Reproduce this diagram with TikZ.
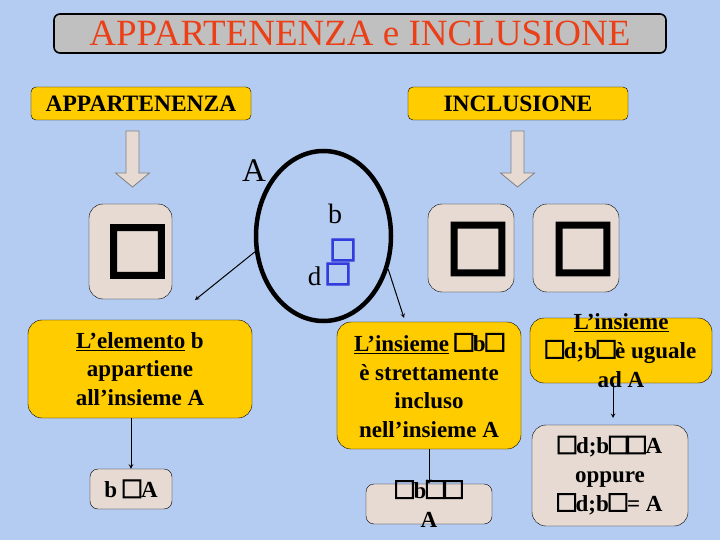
\documentclass[tikz,border=0pt]{standalone}
\usepackage{fontspec}
\setmainfont{Liberation Serif}
\newfontfamily\glyphfont[FakeBold=3]{Liberation Serif}
\newfontfamily\bigglyphfont[FakeBold=4.5]{Liberation Serif}
\usetikzlibrary{shapes.geometric}
\definecolor{bgblue}{RGB}{180,204,242}
\definecolor{hdyellow}{RGB}{255,204,0}
\definecolor{boxbeige}{RGB}{230,218,210}
\definecolor{titlegray}{RGB}{192,192,192}
\definecolor{titlered}{RGB}{235,64,23}
\definecolor{sqblue}{RGB}{50,60,220}
\newcommand\bodyfont{\fontsize{23}{28.7}\selectfont\bfseries}
\newcommand\gq{{\glyphfont\fontsize{30}{28.7}\selectfont □}}
\tikzset{
  titlebox/.style={draw, line width=1.6pt, rounded corners=6pt, fill=titlegray, text=titlered,
    minimum width=612pt, minimum height=39pt, inner sep=0pt, font=\fontsize{37}{40}\selectfont},
  headbox/.style={draw, rounded corners=5pt, fill=hdyellow, minimum width=220pt, minimum height=33pt,
    inner sep=0pt, font=\fontsize{23.5}{28}\selectfont\bfseries},
  yelbox/.style={draw, rounded corners=14pt, fill=hdyellow, inner sep=0pt, align=center, font=\bodyfont},
  beigebox/.style={draw, rounded corners=14pt, fill=boxbeige, inner sep=0pt, align=center, font=\bodyfont},
  bodytext/.style={align=center, inner sep=0pt, font=\bodyfont},
  bigglyph/.style={inner sep=0pt, font=\bigglyphfont\fontsize{85}{85}\selectfont},
  blueglyph/.style={inner sep=0pt, text=sqblue, font=\glyphfont\fontsize{37}{37}\selectfont},
  blockarrow/.style={fill=boxbeige, draw=gray, line width=0.8pt},
}
\begin{document}
\begin{tikzpicture}[x=1pt, y=-1pt]
\useasboundingbox (0,0) rectangle (720,540);
\fill[bgblue] (0,0) rectangle (720,540);

\node[titlebox] (title) at (360,33.5) {APPARTENENZA e INCLUSIONE};
\node[headbox] (app) at (141,103.5) {APPARTENENZA};
\node[headbox] (incl) at (518,103.5) {INCLUSIONE};

% frecce larghe
\foreach \x in {132.5, 517.5}
  \draw[blockarrow] (\x-6.5,131) -- (\x+6.5,131) -- (\x+6.5,173) -- (\x+17,173)
    -- (\x,187) -- (\x-17,173) -- (\x-6.5,173) -- cycle;

% insieme A
\node[ellipse, draw, line width=4.5pt, inner sep=0pt, minimum width=135pt, minimum height=170pt] (setA) at (323.5,236) {};
\node[anchor=base, inner sep=0pt, font=\fontsize{33}{33}\selectfont] (labA) at (254,182) {A};
\node[anchor=base, inner sep=0pt, font=\fontsize{28}{28}\selectfont] (elb) at (335,223) {b};
\node[anchor=base, inner sep=0pt, font=\fontsize{27}{27}\selectfont] (eld) at (314.5,285) {d};
\node[blueglyph] (sqa) at (343,250) {□};
\node[blueglyph] (sqb) at (338,274) {□};

% simboli
\node[beigebox, minimum width=83pt, minimum height=95pt] (symapp) at (130.5,251.5) {};
\node[bigglyph] (glapp) at (137.5,251.5) {□};
\node[beigebox, minimum width=86pt, minimum height=88pt] (symsub) at (471,248) {};
\node[bigglyph] (glsub) at (478,249) {□};
\node[beigebox, minimum width=86pt, minimum height=88pt] (symeq) at (576,248) {};
\node[bigglyph] (gleq) at (583,249) {□};

% appartenenza
\node[yelbox, minimum width=224pt, minimum height=98pt] (belong) at (140,369)
  {\underline{L’elemento} b\\ appartiene\\ all’insieme A};
\node[beigebox, rounded corners=8pt, minimum width=82pt, minimum height=40pt] (bA) at (131,489) {b \gq A};

% inclusione stretta
\node[yelbox, minimum width=184pt, minimum height=127pt] (strict) at (429,385.5)
  {\underline{L’insieme} \gq b\gq\\ è strettamente\\ incluso\\ nell’insieme A};
\node[beigebox, rounded corners=8pt, minimum width=126pt, minimum height=40pt] (sub) at (429,504) {};
\node[bodytext] (subtxt) at (429,504) {\gq b\gq\gq\\ A};

% uguaglianza
\node[yelbox, minimum width=182pt, minimum height=65pt] (equal) at (621,350.5) {};
\node[bodytext] (equaltxt) at (621,350.5) {\underline{L’insieme}\\ \gq d;b\gq è uguale\\ ad A};
\node[beigebox, minimum width=156pt, minimum height=101pt] (subeq) at (610,475.5)
  {\gq d;b\gq\gq A\\ oppure\\ \gq d;b\gq= A};

\coordinate (endapp) at (195,300);
\coordinate (endsub) at (404,318);
\coordinate (endeq) at (613,418);

\path[->,>=stealth, line width=1pt]
(setA.193) edge (endapp)
(setA.333) edge (endsub)
(bA.north |- belong.south) edge (bA.north)
(strict.south) edge (sub.north)
(endeq |- equal.south) edge (endeq);
\end{tikzpicture}
\end{document}
